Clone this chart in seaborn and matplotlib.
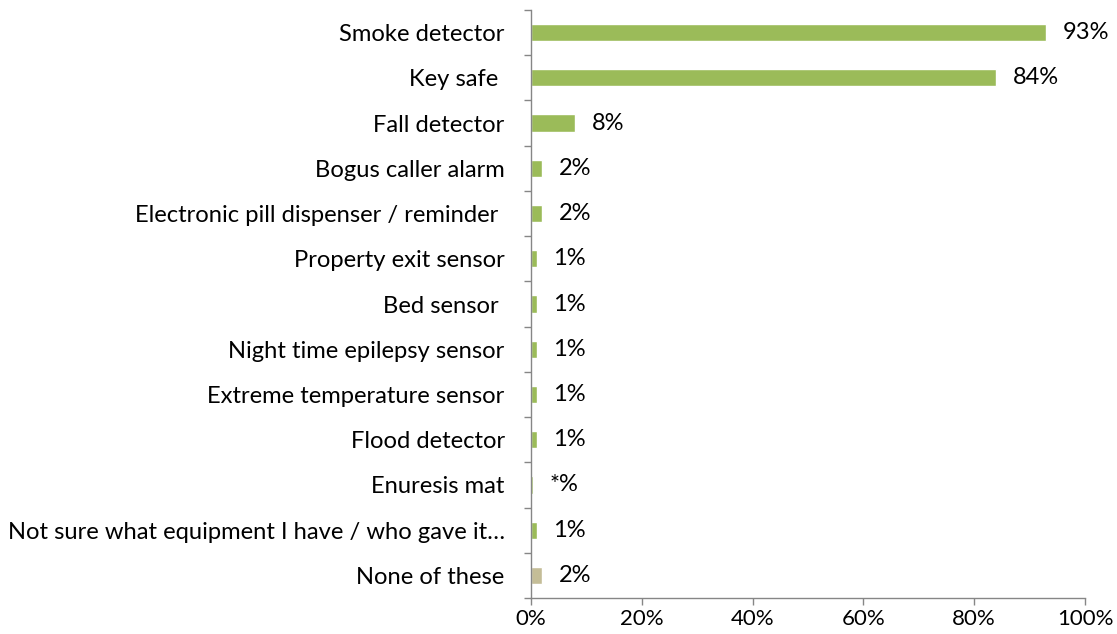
import seaborn as sns
import matplotlib.pyplot as plt
import numpy as np
from matplotlib.ticker import FixedLocator

# Data
categories = ['Smoke detector', 'Key safe ', 'Fall detector', 'Bogus caller alarm',
              'Electronic pill dispenser / reminder ', 'Property exit sensor', 'Bed sensor ',
              'Night time epilepsy sensor', 'Extreme temperature sensor', 'Flood detector',
              'Enuresis mat', 'Not sure what equipment I have / who gave it\u2026', 'None of these']
values = [93, 84, 8, 2, 2, 1, 1, 1, 1, 1, 0.3, 1, 2]
value_labels = ['93%', '84%', '8%', '2%', '2%', '1%', '1%', '1%', '1%', '1%', '*%', '1%', '2%']
x_ticks = [0, 20, 40, 60, 80, 100]

green = '#9BBB59'
tan = '#C4BD97'
colors = [green] * (len(categories) - 1) + [tan]

sns.set_style('white')
plt.rcParams['font.family'] = ['Lato', 'DejaVu Sans']

fig = plt.figure(figsize=(11.17, 6.34), dpi=100)
ax = fig.add_axes([0.4754, 0.0568, 0.496, 0.9274])

sns.barplot(x=values, y=categories, hue=categories, palette=colors, legend=False,
            width=0.38, orient='h', ax=ax, saturation=1)

# value labels next to each bar
for i, (v, lab) in enumerate(zip(values, value_labels)):
    ax.annotate(lab, xy=(v, i), xytext=(12, 0), textcoords='offset points',
                va='center', ha='left', fontsize=17, color='black')

ax.set_xlim(0, 100)
ax.set_ylim(len(categories) - 0.5, -0.5)
ax.set_xticks(x_ticks)
ax.set_xticklabels([f'{t}%' for t in x_ticks], fontsize=16)
ax.tick_params(axis='y', which='major', length=0, pad=19, labelsize=17.1, labelcolor='black')
ax.yaxis.set_minor_locator(FixedLocator(np.arange(-0.5, len(categories), 1)))
ax.tick_params(axis='y', which='minor', left=True, length=5, width=1, color='#868686', direction='out')
ax.tick_params(axis='x', which='major', bottom=True, length=5, width=1, color='#868686',
               direction='out', pad=3, labelcolor='black')
ax.set_xlabel('')
ax.set_ylabel('')

sns.despine(ax=ax, top=True, right=True)
for side in ['left', 'bottom']:
    ax.spines[side].set_color('#868686')
    ax.spines[side].set_linewidth(1)

fig.savefig('out.png', dpi=100)
